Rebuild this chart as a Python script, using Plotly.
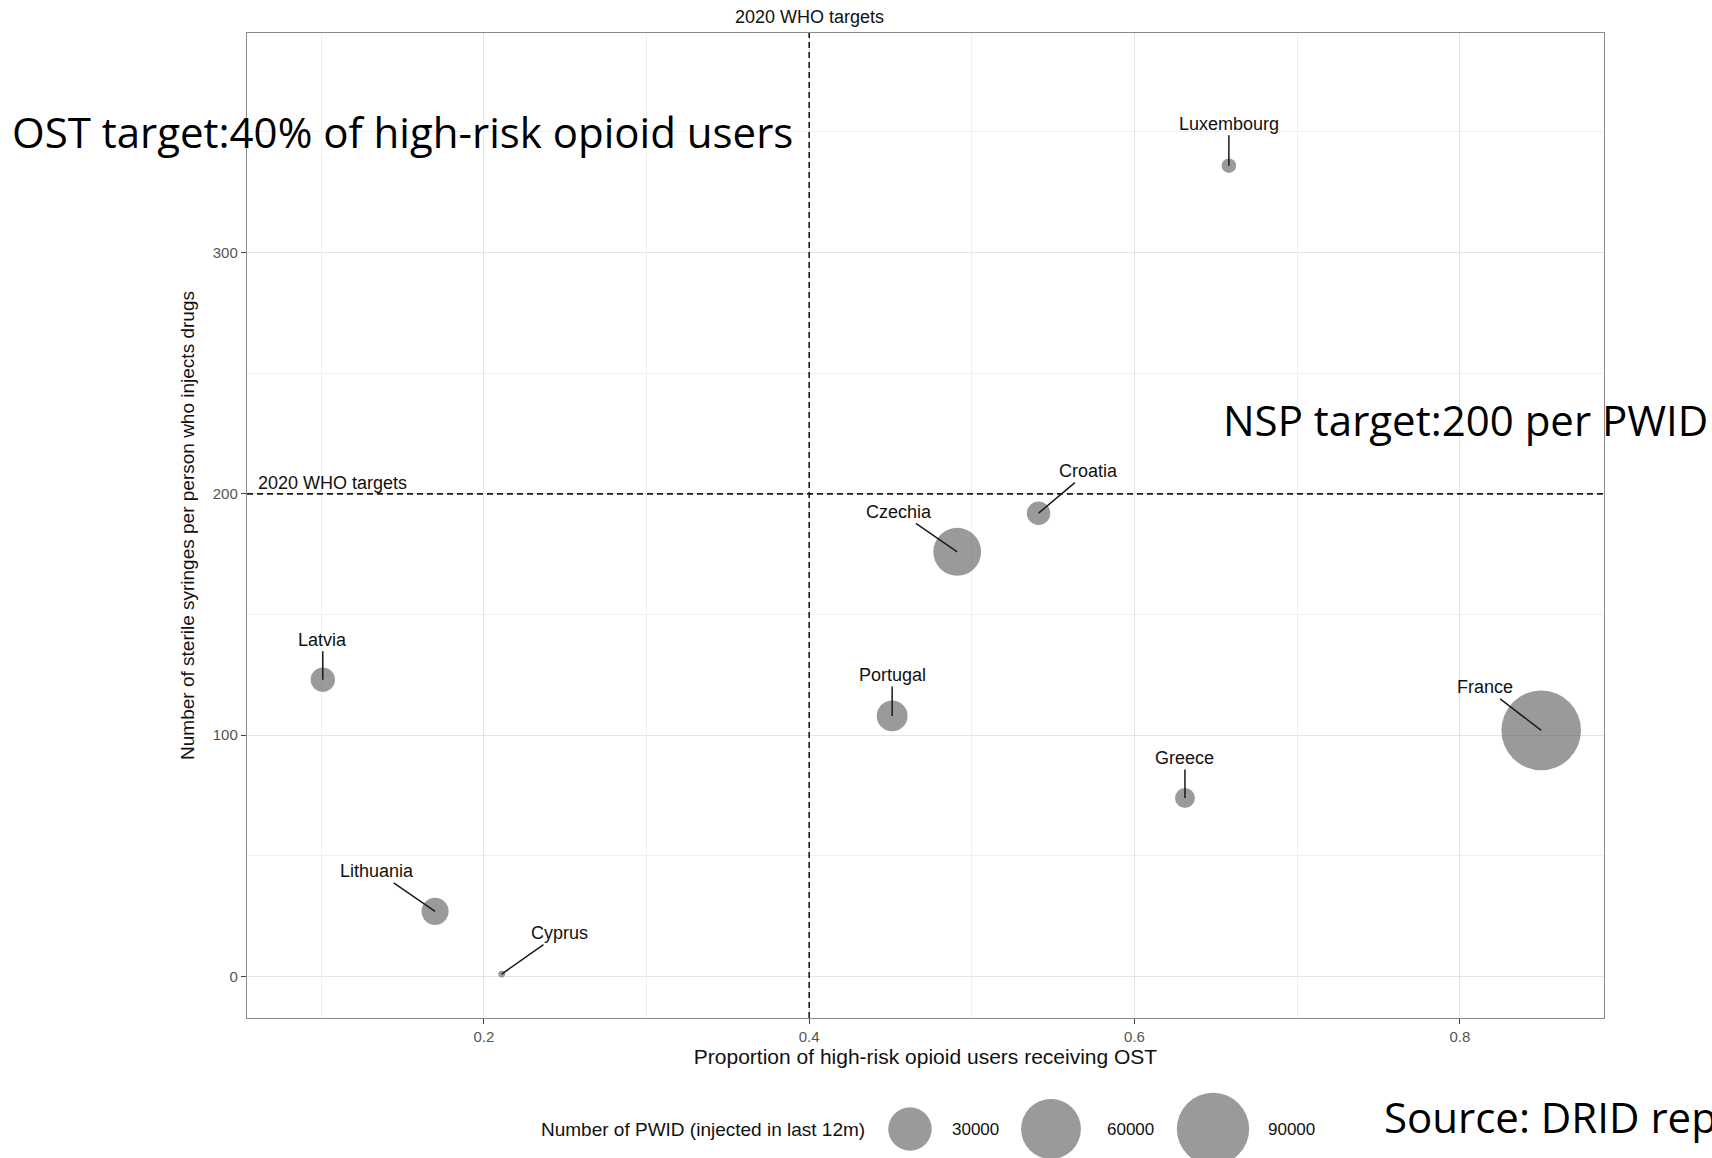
import numpy as np
import plotly.graph_objects as go

# ---------------- data ----------------
countries = ["Luxembourg", "Croatia", "Czechia", "Latvia", "Portugal",
             "France", "Greece", "Lithuania", "Cyprus"]
ost_prop = [0.658, 0.541, 0.491, 0.101, 0.451, 0.850, 0.631, 0.170, 0.211]
syringes = [336, 192, 176, 123, 108, 102, 74, 27, 1]
pwid = [2100, 7300, 37000, 8000, 13800, 110000, 4900, 10300, 150]

legend_values = [30000, 60000, 90000]
x_ticks = [0.2, 0.4, 0.6, 0.8]
y_ticks = [0, 100, 200, 300]
ost_target = 0.4
nsp_target = 200

W, H = 1712, 1158


def bubble_px(v):
    # ggplot-like area scale (with small minimum), converted to circle diameter
    v = np.asarray(v, dtype=float)
    return 0.905 * (4.4 + 0.252 * np.sqrt(v))


# label offsets (pixels) for repelled labels
label_offsets = {
    "Luxembourg": (0, -42), "Croatia": (50, -42), "Czechia": (-58, -40),
    "Latvia": (0, -40), "Portugal": (0, -41), "France": (-56, -43),
    "Greece": (0, -40), "Lithuania": (-58, -40), "Cyprus": (58, -41),
}

FONT = "Liberation Sans, Arial, sans-serif"
BIG = "Open Sans, Noto Sans, sans-serif"
BUBBLE = "rgba(85,85,85,0.85)"

fig = go.Figure()

fig.add_trace(go.Scatter(
    x=ost_prop, y=syringes, mode="markers",
    marker=dict(size=bubble_px(pwid), sizemode="diameter",
                color=BUBBLE, line=dict(width=0)),
    hovertext=countries, showlegend=False, xaxis="x", yaxis="y",
))

# size legend drawn on its own small axis at the bottom
leg_x = [910, 1051, 1213]
fig.add_trace(go.Scatter(
    x=leg_x, y=[29, 29, 29], mode="markers",
    marker=dict(size=bubble_px(legend_values), sizemode="diameter",
                color=BUBBLE, line=dict(width=0)),
    showlegend=False, xaxis="x2", yaxis="y2", hoverinfo="skip",
))

annotations = []
for c, x, y in zip(countries, ost_prop, syringes):
    ax, ay = label_offsets[c]
    annotations.append(dict(
        x=x, y=y, xref="x", yref="y", text=c, showarrow=True,
        arrowhead=0, arrowwidth=1.5, arrowcolor="#1a1a1a", ax=ax, ay=ay,
        standoff=0, borderpad=1, font=dict(family=FONT, size=18, color="#111111"),
    ))

# legend texts
annotations.append(dict(x=867 / W, y=1 - 1129 / H, xref="paper", yref="paper",
                        text="Number of PWID (injected in last 12m)", showarrow=False,
                        xanchor="right", yanchor="middle",
                        font=dict(family=FONT, size=19, color="#111111")))
for v, lx in zip(legend_values, [950, 1105, 1266]):
    annotations.append(dict(x=lx / W, y=1 - 1129 / H, xref="paper", yref="paper",
                            text=str(v), showarrow=False, xanchor="left",
                            yanchor="middle",
                            font=dict(family=FONT, size=17, color="#111111")))

# target labels
annotations.append(dict(x=ost_target, y=1 - 17.5 / H, xref="x", yref="paper",
                        text="2020 WHO targets", showarrow=False, xanchor="center",
                        yanchor="middle", font=dict(family=FONT, size=18, color="#111111")))
annotations.append(dict(x=256 / W, y=1 - 483 / H, xref="paper", yref="paper",
                        text="2020 WHO targets", showarrow=False, xanchor="left",
                        yanchor="middle", font=dict(family=FONT, size=18, color="#111111")))

# overlay texts
annotations.append(dict(x=10 / W, y=1 - 131 / H, xref="paper", yref="paper",
                        text="OST target:40% of high-risk opioid users", showarrow=False,
                        xanchor="left", yanchor="middle",
                        font=dict(family=BIG, size=42, color="#000000")))
annotations.append(dict(x=1221 / W, y=1 - 419 / H, xref="paper", yref="paper",
                        text="NSP target:200 per PWID", showarrow=False,
                        xanchor="left", yanchor="middle",
                        font=dict(family=BIG, size=42, color="#000000")))
annotations.append(dict(x=1382 / W, y=1 - 1116 / H, xref="paper", yref="paper",
                        text="Source: DRID report", showarrow=False,
                        xanchor="left", yanchor="middle",
                        font=dict(family=BIG, size=42, color="#000000")))

shapes = [
    dict(type="line", xref="x", yref="paper", x0=ost_target, x1=ost_target,
         y0=1 - 1018 / H, y1=1 - 33 / H, line=dict(color="#1a1a1a", width=1.6, dash="6px,4px")),
    dict(type="line", xref="paper", yref="y", x0=247 / W, x1=1604 / W,
         y0=nsp_target, y1=nsp_target, line=dict(color="#1a1a1a", width=1.6, dash="6px,4px")),
]

grid_major = "#e4e4e4"
grid_minor = "#f0f0f0"

fig.update_layout(
    width=W, height=H,
    margin=dict(l=0, r=0, t=0, b=0),
    paper_bgcolor="white", plot_bgcolor="white",
    font=dict(family=FONT, color="#111111"),
    showlegend=False,
    annotations=annotations,
    shapes=shapes,
    xaxis=dict(
        domain=[247 / W, 1604 / W], range=[0.0544, 0.8886],
        tickvals=x_ticks, ticktext=[f"{t:.1f}" for t in x_ticks],
        showgrid=True, gridcolor=grid_major, gridwidth=1,
        minor=dict(dtick=0.1, tick0=0, showgrid=True, gridcolor=grid_minor, gridwidth=1),
        zeroline=False, showline=True, mirror=True, linecolor="#8a8a8a", linewidth=1.4,
        ticks="outside", ticklen=5, tickcolor="#444444", tickwidth=1,
        tickfont=dict(family=FONT, size=15, color="#555555"),
        title=dict(text="Proportion of high-risk opioid users receiving OST",
                   font=dict(family=FONT, size=21, color="#111111"), standoff=3),
    ),
    yaxis=dict(
        domain=[1 - 1018 / H, 1 - 33 / H], range=[-17.2, 391],
        tickvals=y_ticks, ticktext=[str(t) for t in y_ticks],
        showgrid=True, gridcolor=grid_major, gridwidth=1,
        minor=dict(dtick=50, tick0=0, showgrid=True, gridcolor=grid_minor, gridwidth=1),
        zeroline=False, showline=True, mirror=True, linecolor="#8a8a8a", linewidth=1.4,
        ticks="outside", ticklen=5, tickcolor="#444444", tickwidth=1,
        tickfont=dict(family=FONT, size=15, color="#555555"),
        title=dict(text="Number of sterile syringes per person who injects drugs",
                   font=dict(family=FONT, size=19, color="#111111"), standoff=13),
    ),
    xaxis2=dict(domain=[0, 1], range=[0, W], visible=False, fixedrange=True),
    yaxis2=dict(domain=[0, 116 / H], range=[0, 116], visible=False, fixedrange=True),
)

fig.write_html("out.html", config={"displayModeBar": False},
               post_script="document.body.style.margin='0px';document.body.style.overflow='hidden';")
